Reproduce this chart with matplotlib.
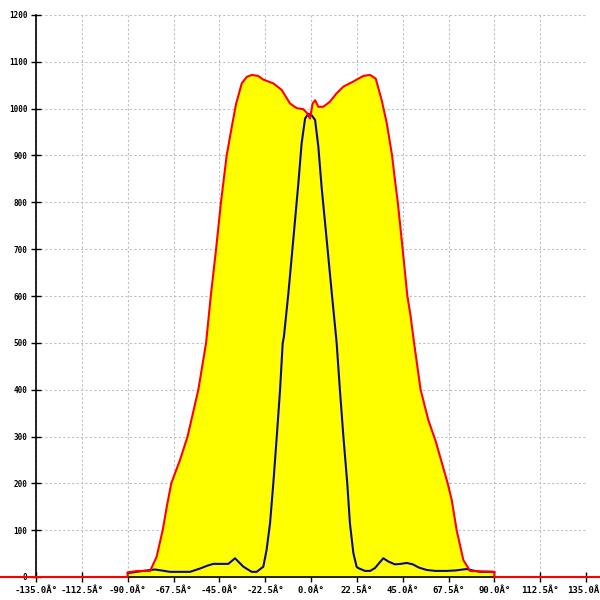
import matplotlib
matplotlib.use("Agg")
import matplotlib.pyplot as plt
import numpy as np

# outer curve (filled), degrees -> intensity
red_x = [-90, -90, -85, -79, -75.8, -72.8, -70.8, -68.6, -64.3, -60.6,
         -57.2, -55.3, -51.5, -49.2, -46.6, -44.2, -41.4, -38.9, -36.8, -34,
         -31.5, -29, -26, -23.4, -18.5, -14.4, -10.3, -7, -3.8, -1.8,
         -0.5, 0.8, 2, 3.6, 6, 9.3, 12.6, 15.9, 20.8, 25.7,
         29, 31.8, 34.7, 37.2, 39.8, 41.2, 42.6, 45, 47.3, 48.8,
         50.6, 53.8, 57.6, 61.2, 67.1, 69.1, 71.5, 74.8, 78.1, 84,
         90, 90]
red_y = [0, 10, 13, 13, 43, 100, 150, 200, 250, 300,
         364, 400, 500, 600, 700, 800, 900, 961, 1010, 1054,
         1068, 1072, 1070, 1062, 1054, 1040, 1011, 1001, 999, 990,
         979, 1011, 1018, 1004, 1004, 1015, 1033, 1047, 1058, 1070,
         1072, 1064, 1018, 969, 900, 848, 800, 700, 600, 560,
         500, 400, 335, 290, 200, 164, 100, 36, 13, 12,
         11, 0]

# inner curve
blue_x = [-90, -88.9, -84, -79, -76.6, -72, -69.2, -64, -59.4, -54.5,
          -51, -48, -44, -40.6, -37.3, -33.2, -29.1, -26.7, -23.4, -21.8,
          -20.1, -18.5, -16.8, -15.2, -13.9, -13.3, -11.1, -8.7, -6.2, -4.6,
          -2.9, -1.3, 0.3, 2, 3.6, 5.2, 7.7, 10.2, 12.3, 12.6,
          14.2, 15.9, 17.8, 19.1, 20.8, 22.4, 23.2, 26.5, 29, 31.4,
          33.5, 35.5, 38, 41.2, 44, 47, 50, 53, 56.8, 61,
          66.6, 71, 76.4, 80.5, 83, 89.5, 90]
blue_y = [8, 9, 12, 15, 16, 13, 11, 11, 11, 18,
          24, 28, 28, 28, 40, 22, 11, 11, 22, 58,
          115, 200, 300, 399, 499, 513, 606, 720, 841, 926,
          979, 989, 986, 976, 919, 833, 720, 606, 513, 499,
          399, 300, 200, 115, 51, 22, 19, 13, 13, 19,
          30, 40, 33, 27, 28, 30, 27, 20, 15, 13,
          13, 14, 17, 13, 11, 11, 10]

x_ticks = [-135, -112.5, -90, -67.5, -45, -22.5, 0, 22.5, 45, 67.5, 90, 112.5, 135]
y_ticks = list(range(0, 1201, 100))

fig = plt.figure(figsize=(6, 6), dpi=100)
ax = fig.add_axes([36 / 600, 23 / 600, 550 / 600, 562 / 600])

ax.fill_between(red_x, red_y, 0, color="#ffff00", linewidth=0, zorder=2)
ax.plot(blue_x, blue_y, color="#0a0a9a", linewidth=1.5, zorder=3)
# zero baseline of the outer curve runs past the plot edges
line_x = [-160] + red_x + [150]
line_y = [0] + red_y + [0]
ax.plot(line_x, line_y, color="#ff0000", linewidth=1.5, zorder=4, clip_on=False)

ax.set_xlim(-135, 135)
ax.set_ylim(0, 1200)
ax.set_xticks(x_ticks)
ax.set_xticklabels([f"{v:.1f}Â°" for v in x_ticks])
ax.set_yticks(y_ticks)
ax.set_yticklabels([str(v) for v in y_ticks])

for lbl in ax.get_xticklabels():
    lbl.set_fontfamily("DejaVu Sans Mono")
    lbl.set_fontsize(6.5)
    lbl.set_fontweight("bold")
for lbl in ax.get_yticklabels():
    lbl.set_fontfamily("DejaVu Sans Mono")
    lbl.set_fontsize(5.5)
    lbl.set_fontweight("bold")

ax.tick_params(axis="both", direction="inout", length=6.5, width=1, color="black")
ax.tick_params(axis="x", pad=3)
ax.tick_params(axis="y", pad=3)

ax.grid(True, color="#c0c0c0", linestyle=(0, (2, 2)), linewidth=0.8, zorder=1)
ax.set_axisbelow(True)

for side in ("top", "right"):
    ax.spines[side].set_visible(False)
for side in ("left", "bottom"):
    ax.spines[side].set_linewidth(1.2)
    ax.spines[side].set_zorder(3.5)

fig.savefig("out.png", dpi=100)
